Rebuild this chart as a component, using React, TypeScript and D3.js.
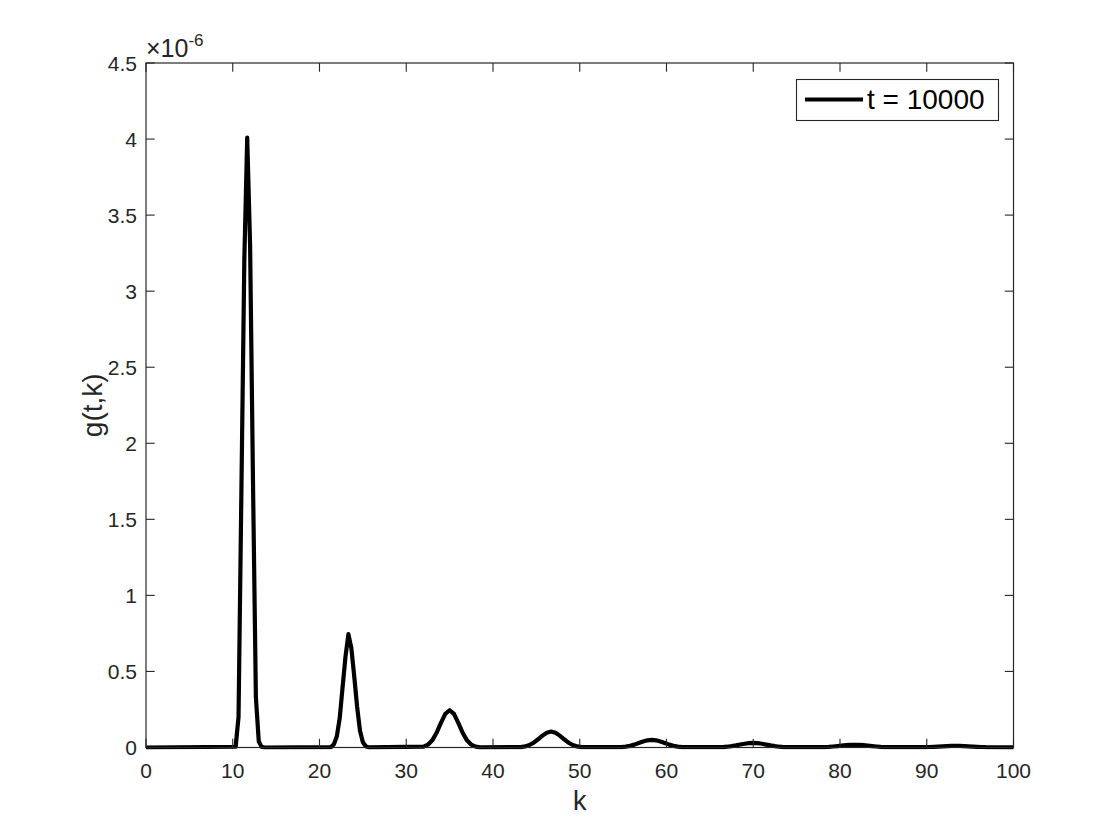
import React from "react";
import * as d3 from "d3";

// k positions and g(t,k) values in units of 1e-6
const kValues: number[] = [
  0, 10.333, 10.667, 11.0, 11.333, 11.667, 12.0, 12.333, 12.667, 13.0, 13.333, 13.667,
  21.333, 21.667, 22.0, 22.333, 22.667, 23.0, 23.333, 23.667, 24.0, 24.333, 24.667, 25.0, 25.333, 25.667,
  32.0, 32.5, 33.0, 33.5, 34.0, 34.5, 35.0, 35.5, 36.0, 36.5, 37.0, 37.5, 38.0, 38.5,
  43.2, 43.7, 44.2, 44.7, 45.2, 45.7, 46.2, 46.7, 47.2, 47.7, 48.2, 48.7, 49.2, 49.7, 50.2,
  54.8, 55.3, 55.8, 56.3, 56.8, 57.3, 57.8, 58.3, 58.8, 59.3, 59.8, 60.3, 60.8, 61.3, 61.8,
  66.5, 67.0, 67.5, 68.0, 68.5, 69.0, 69.5, 70.0, 70.5, 71.0, 71.5, 72.0, 72.5, 73.0, 73.5,
  78.2, 78.7, 79.2, 79.7, 80.2, 80.7, 81.2, 81.7, 82.2, 82.7, 83.2, 83.7, 84.2, 84.7, 85.2,
  89.8, 90.3, 90.8, 91.3, 91.8, 92.3, 92.8, 93.3, 93.8, 94.3, 94.8, 95.3, 95.8, 96.3, 96.8,
  100,
];

const gValues: number[] = [
  0, 0.005, 0.2, 1.7, 3.2, 4.01, 3.3, 1.75, 0.33, 0.04, 0.004, 0,
  0.003, 0.022, 0.074, 0.195, 0.4, 0.6, 0.745, 0.655, 0.47, 0.27, 0.11, 0.035, 0.008, 0.001,
  0.006, 0.0185, 0.047, 0.097, 0.162, 0.221, 0.245, 0.221, 0.162, 0.097, 0.047, 0.0185, 0.006, 0.001,
  0.0028, 0.0073, 0.0165, 0.032, 0.054, 0.078, 0.0975, 0.105, 0.0975, 0.078, 0.054, 0.032, 0.0165, 0.0073, 0.0028,
  0.0027, 0.006, 0.011, 0.019, 0.029, 0.039, 0.047, 0.05, 0.047, 0.039, 0.029, 0.019, 0.011, 0.006, 0.0027,
  0.0027, 0.0052, 0.0089, 0.0137, 0.0193, 0.0247, 0.0286, 0.03, 0.0286, 0.0247, 0.0193, 0.0137, 0.0089, 0.0052, 0.0027,
  0.0024, 0.0041, 0.0065, 0.0094, 0.0125, 0.0153, 0.0173, 0.018, 0.0173, 0.0153, 0.0125, 0.0094, 0.0065, 0.0041, 0.0024,
  0.002, 0.0032, 0.0046, 0.0063, 0.008, 0.0096, 0.0106, 0.011, 0.0106, 0.0096, 0.008, 0.0063, 0.0046, 0.0032, 0.002,
  0.0005,
];

const xTicks: number[] = [0, 10, 20, 30, 40, 50, 60, 70, 80, 90, 100];
const yTicks: number[] = [0, 0.5, 1, 1.5, 2, 2.5, 3, 3.5, 4, 4.5];
const seriesName = "t = 10000";
const xLabel = "k";
const yLabel = "g(t,k)";

const W = 1120;
const H = 840;
const L = 146;
const R = 1013.5;
const T = 63;
const B = 747.5;
const axisColor = "#262626";
const font = "'Liberation Sans', Arial, Helvetica, sans-serif";

export default function App() {
  const x = d3.scaleLinear().domain([0, 100]).range([L, R]);
  const y = d3.scaleLinear().domain([0, 4.5]).range([B, T]);
  const pts: [number, number][] = kValues.map((k, i) => [k, gValues[i]]);
  const line = d3
    .line<[number, number]>()
    .x((d) => x(d[0]))
    .y((d) => y(d[1]));
  const tl = 8.7;

  return (
    <svg
      width={W}
      height={H}
      style={{ position: "absolute", left: 0, top: 0, background: "#fff" }}
      fontFamily={font}
    >
      <rect x={0} y={0} width={W} height={H} fill="#fff" />
      <defs>
        <clipPath id="plotclip">
          <rect x={L} y={T - 2} width={R - L} height={B - T + 4} />
        </clipPath>
      </defs>
      <path
        d={line(pts) || ""}
        fill="none"
        stroke="#000"
        strokeWidth={4.2}
        strokeLinejoin="round"
        strokeLinecap="round"
        clipPath="url(#plotclip)"
      />
      <rect
        x={L}
        y={T}
        width={R - L}
        height={B - T}
        fill="none"
        stroke={axisColor}
        strokeWidth={1.2}
      />
      {xTicks.map((t) => (
        <g key={"x" + t}>
          <line x1={x(t)} x2={x(t)} y1={B} y2={B - tl} stroke={axisColor} strokeWidth={1.1} />
          <line x1={x(t)} x2={x(t)} y1={T} y2={T + tl} stroke={axisColor} strokeWidth={1.1} />
          <text x={x(t)} y={777.5} textAnchor="middle" fontSize={21} fill={axisColor}>
            {String(t)}
          </text>
        </g>
      ))}
      {yTicks.map((t) => (
        <g key={"y" + t}>
          <line x1={L} x2={L + tl} y1={y(t)} y2={y(t)} stroke={axisColor} strokeWidth={1.1} />
          <line x1={R} x2={R - tl} y1={y(t)} y2={y(t)} stroke={axisColor} strokeWidth={1.1} />
          <text x={137} y={y(t) + 7.5} textAnchor="end" fontSize={21} fill={axisColor}>
            {String(t)}
          </text>
        </g>
      ))}
      <text x={146} y={57} fontSize={25} fill={axisColor}>
        ×10
        <tspan dy={-11} fontSize={17}>
          -6
        </tspan>
      </text>
      <text x={(L + R) / 2} y={810} textAnchor="middle" fontSize={27} fill={axisColor}>
        {xLabel}
      </text>
      <text
        transform={`translate(102, ${(T + B) / 2}) rotate(-90)`}
        textAnchor="middle"
        fontSize={28}
        fill={axisColor}
      >
        {yLabel}
      </text>
      <rect
        x={796.5}
        y={79.5}
        width={202}
        height={41}
        fill="#fff"
        stroke={axisColor}
        strokeWidth={1.1}
      />
      <line x1={805} x2={863} y1={99.5} y2={99.5} stroke="#000" strokeWidth={4.2} />
      <text x={867} y={109} fontSize={28} fill="#000">
        {seriesName}
      </text>
    </svg>
  );
}
